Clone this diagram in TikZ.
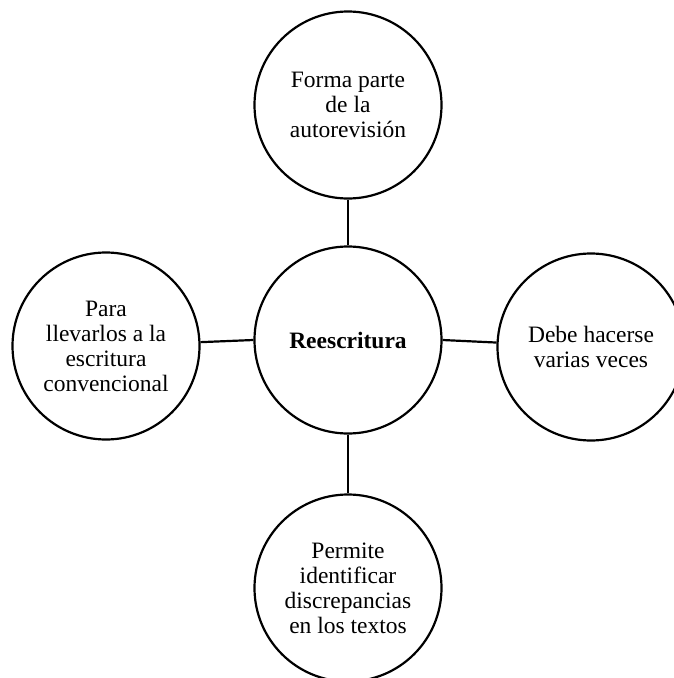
\documentclass[tikz,border=0pt]{standalone}
\usepackage{fontspec}
\setmainfont{Liberation Serif}
\begin{document}
\begin{tikzpicture}[x=1pt,y=-1pt,
  bubble/.style={circle,draw=black,line width=2.2pt,minimum size=187pt,inner sep=0pt,
    align=center,font=\fontsize{23.5}{25}\selectfont},
  link/.style={line width=2.2pt}]
  \useasboundingbox (0,0) rectangle (673,678);
  \node[bubble] (hub) at (348,340) {\textbf{Reescritura}};
  \node[bubble] (up) at (348,105) {Forma parte\\de la\\autorevisión};
  \node[bubble] (west) at (106,346) {Para\\llevarlos a la\\escritura\\convencional};
  \node[bubble] (east) at (591,347) {Debe hacerse\\varias veces};
  \node[bubble] (down) at (348,588) {Permite\\identificar\\discrepancias\\en los textos};
  \draw[link] (hub) -- (up);
  \draw[link] (hub.west) -- (west);
  \draw[link] (hub.east) -- (east);
  \draw[link] (hub) -- (down);
\end{tikzpicture}
\end{document}
